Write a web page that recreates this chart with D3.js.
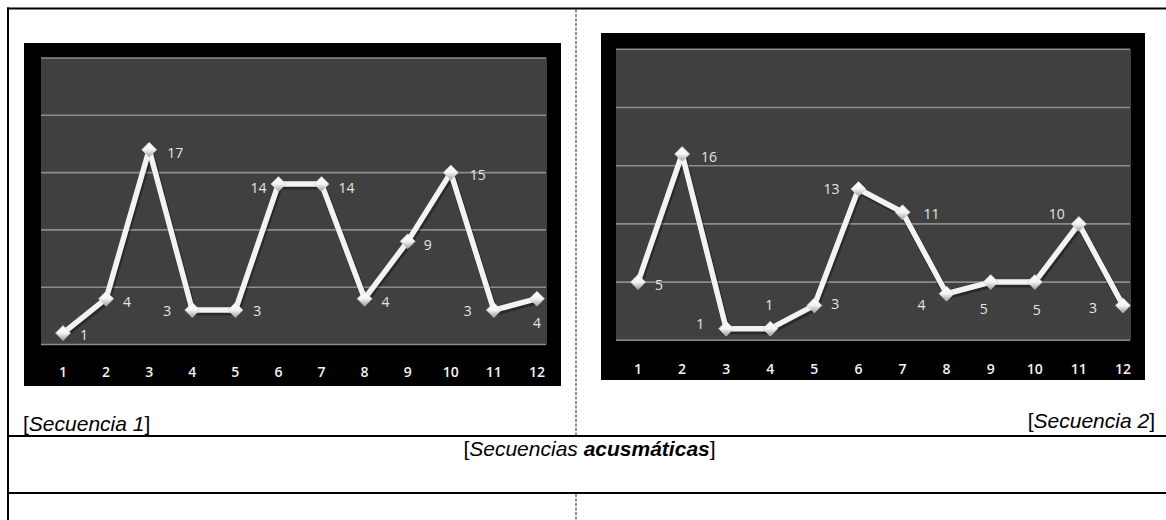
<!DOCTYPE html>
<html><head><meta charset="utf-8">
<script src="https://cdn.jsdelivr.net/npm/d3@7"></script>
<style>body{margin:0;background:#fff}svg{display:block}</style>
</head><body><svg id="c" width="1166" height="520"></svg>
<script>
// ---------- data ----------
const categories = ["1","2","3","4","5","6","7","8","9","10","11","12"];
const seq1Values = [1, 4, 17, 3, 3, 14, 14, 4, 9, 15, 3, 4];
const seq2Values = [5, 16, 1, 1, 3, 13, 11, 4, 5, 5, 10, 3];
const gridTicks = [0, 5, 10, 15, 20, 25];
const caption1 = "Secuencia 1";
const caption2 = "Secuencia 2";
const titleItalic = "Secuencias ";
const titleBold = "acusmáticas";

// ---------- layout (label offsets of each data label, in px) ----------
const seq1LabelOffsets = [[21,1],[21,3],[26,3],[-25,0],[22,0],[-20,3],[25,3],[21,3],[20,3],[27,2],[-26,0],[0,24]];
const seq2LabelOffsets = [[21,2],[27,2],[-26,-5],[-1,-24],[21,-2],[-27,0],[29,1],[-25,11],[-7,26],[2,27],[-22,-10],[-30,2]];

const svg = d3.select("#c");
const defs = svg.append("defs");

const grad = defs.append("linearGradient").attr("id","mk").attr("x1","0").attr("y1","0").attr("x2","0").attr("y2","1");
grad.append("stop").attr("offset","0").attr("stop-color","#ffffff");
grad.append("stop").attr("offset","0.5").attr("stop-color","#f4f4f4");
grad.append("stop").attr("offset","1").attr("stop-color","#9c9c9c");

function drawChart(id, values, offsets, L) {
  const g = svg.append("g");
  g.append("rect").attr("x",L.fx).attr("y",L.fy).attr("width",L.fw).attr("height",L.fh).attr("fill","#000");
  g.append("rect").attr("x",L.px0).attr("y",L.py0).attr("width",L.px1-L.px0).attr("height",L.py1-L.py0).attr("fill","#404040");

  const x = d3.scaleBand().domain(categories).range(L.band).padding(0);
  const y = d3.scaleLinear().domain([0,25]).range([L.py1, L.py0]);
  const cx = c => x(c) + x.bandwidth()/2;

  g.append("g").selectAll("line").data(gridTicks).join("line")
    .attr("x1",L.px0).attr("x2",L.px1-1)
    .attr("y1",d=>y(d)).attr("y2",d=>y(d))
    .attr("stroke","#8c8c8c").attr("stroke-width",1.6);

  // tick labels
  g.append("g").selectAll("text").data(categories).join("text")
    .attr("x",d=>cx(d)).attr("y",L.tickY)
    .attr("text-anchor","middle").attr("dominant-baseline","central")
    .attr("font-family","'Open Sans', sans-serif").attr("font-size",14).attr("font-weight",600)
    .attr("fill","#f4f4f4").text(d=>d);

  defs.append("clipPath").attr("id","clip"+id).append("rect")
    .attr("x",L.px0).attr("y",L.fy).attr("width",L.px1-L.px0).attr("height",L.fh);

  const pts = categories.map((c,i)=>({c, v:values[i], o:offsets[i]}));
  const s = g.append("g").attr("clip-path","url(#clip"+id+")");
  const line = d3.line().x(d=>cx(d.c)).y(d=>y(d.v));
  s.append("path").datum(pts).attr("d",line).attr("fill","none")
    .attr("stroke","#000").attr("stroke-opacity",0.35).attr("stroke-width",7).attr("stroke-linejoin","round")
    .attr("transform","translate(1,2)");
  s.append("path").datum(pts).attr("d",line).attr("fill","none")
    .attr("stroke","#f3f3f3").attr("stroke-width",5.5).attr("stroke-linejoin","round");

  const r = 7.5;
  const dia = `M0,${-r}L${r},0L0,${r}L${-r},0Z`;
  s.append("g").selectAll("path").data(pts).join("path")
    .attr("d",dia).attr("transform",d=>`translate(${cx(d.c)},${y(d.v)})`)
    .attr("fill","url(#mk)").attr("stroke","#d0d0d0").attr("stroke-width",0.6);

  g.append("g").selectAll("text").data(pts).join("text")
    .attr("x",d=>cx(d.c)+d.o[0]).attr("y",d=>y(d.v)+d.o[1])
    .attr("text-anchor","middle").attr("dominant-baseline","central")
    .attr("font-family","'Open Sans', sans-serif").attr("font-size",14)
    .attr("fill","#e6e6e6").text(d=>d.v);
}

drawChart(1, seq1Values, seq1LabelOffsets,
  {fx:24, fy:43, fw:537, fh:343, px0:41, px1:547, py0:58, py1:344.5, band:[41.5,558.5], tickY:371});
drawChart(2, seq2Values, seq2LabelOffsets,
  {fx:601, fy:33, fw:544, fh:347, px0:616, px1:1131, py0:49.3, py1:340.3, band:[616,1145], tickY:368});

// ---------- table ----------
const T = svg.append("g");
T.append("line").attr("x1",7).attr("x2",1166).attr("y1",8.5).attr("y2",8.5).attr("stroke","#000").attr("stroke-width",2);
T.append("line").attr("x1",8).attr("x2",8).attr("y1",7.5).attr("y2",520).attr("stroke","#000").attr("stroke-width",2);
T.append("line").attr("x1",7).attr("x2",1166).attr("y1",436).attr("y2",436).attr("stroke","#000").attr("stroke-width",2);
T.append("line").attr("x1",7).attr("x2",1166).attr("y1",493).attr("y2",493).attr("stroke","#000").attr("stroke-width",2);
T.append("line").attr("x1",576).attr("x2",576).attr("y1",9.5).attr("y2",435).attr("stroke","#222").attr("stroke-width",1).attr("stroke-dasharray","3,1.5");
T.append("line").attr("x1",576).attr("x2",576).attr("y1",494).attr("y2",520).attr("stroke","#222").attr("stroke-width",1).attr("stroke-dasharray","3,1.5");

const ff = "'Liberation Sans', Arial, sans-serif";
function cap(xp, yp, anchor, parts) {
  const t = T.append("text").attr("x",xp).attr("y",yp).attr("text-anchor",anchor)
    .attr("font-family",ff).attr("font-size",21).attr("fill","#000");
  parts.forEach(p => t.append("tspan").attr("font-style",p.i?"italic":"normal").attr("font-weight",p.b?"bold":"normal").text(p.t));
}
cap(23, 431, "start", [{t:"["},{t:caption1,i:1},{t:"]"}]);
cap(1155, 428, "end", [{t:"["},{t:caption2,i:1},{t:"]"}]);
cap(589.5, 456, "middle", [{t:"["},{t:titleItalic,i:1},{t:titleBold,i:1,b:1},{t:"]"}]);
</script></body></html>
